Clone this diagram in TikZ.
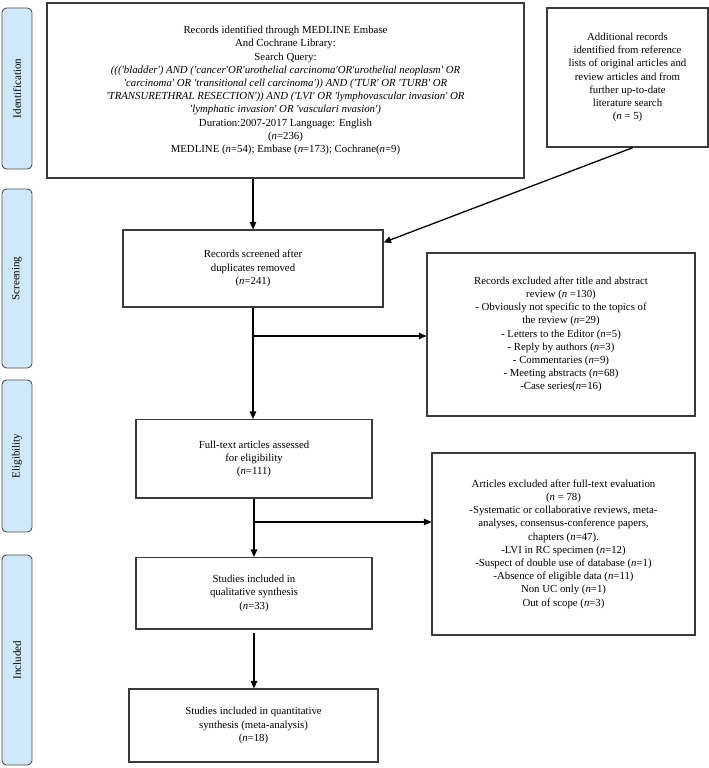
\documentclass[tikz,border=0pt]{standalone}
\usepackage{fontspec}
\setmainfont{Liberation Serif}
\usetikzlibrary{arrows.meta}
\definecolor{tabfill}{HTML}{CFE9FB}
\definecolor{tabborder}{HTML}{505050}
\definecolor{boxgray}{HTML}{3A3A3A}
\newcommand{\sq}{\textquotesingle}
\begin{document}
\begin{tikzpicture}[x=1pt,y=-1pt,
  box/.style={draw=boxgray, line width=1.1pt, align=center, inner sep=0pt,
    font=\fontsize{10.8}{13.2}\selectfont},
  tab/.style={draw=tabborder, fill=tabfill, rounded corners=4.5pt, line width=0.9pt,
    rotate=90, minimum height=30pt, inner sep=0pt, font=\fontsize{11}{13}\selectfont},
  conn/.style={line width=1.3pt, -{Triangle[length=7.5pt,width=6.5pt]}}
]
\useasboundingbox (0,0) rectangle (709,768);

% phase tabs
\node[tab, minimum width=161pt] (tid) at (17,88.5) {Identification};
\node[tab, minimum width=179pt] (tsc) at (17,278.5) {Screening};
\node[tab, minimum width=152pt] (tel) at (17,456) {Eligibility};
\node[tab, minimum width=210pt] (tin) at (17,660) {Included};

% boxes
\node[box, minimum width=477pt, minimum height=175pt] (main) at (285.5,90.5) {%
Records identified through MEDLINE Embase\\
And Cochrane Library:\\
Search Query:\\
\textit{(((\sq bladder\sq) AND (\sq cancer\sq OR\sq urothelial carcinoma\sq OR\sq urothelial neoplasm\sq{} OR}\\
\textit{\sq carcinoma\sq{} OR \sq transitional cell carcinoma\sq)) AND (\sq TUR\sq{} OR \sq TURB\sq{} OR}\\
\textit{\sq TRANSURETHRAL RESECTION\sq)) AND (\sq LVI\sq{} OR \sq lymphovascular invasion\sq{} OR}\\
\textit{\sq lymphatic invasion\sq{} OR \sq vasculari nvasion\sq)}\\
Duration:2007-2017 Language: English\\
(\textit{n}=236)\\
MEDLINE (\textit{n}=54); Embase (\textit{n}=173); Cochrane(\textit{n}=9)};

\node[box, minimum width=161pt, minimum height=139pt] (add) at (627.5,77.5) {%
Additional records\\
identified from reference\\
lists of original articles and\\
review articles and from\\
further up-to-date\\
literature search\\
(\textit{n} = 5)};

\node[box, minimum width=260pt, minimum height=77pt] (scr) at (253,268.5) {%
Records screened after\\
duplicates removed\\
(\textit{n}=241)};

\node[box, minimum width=268pt, minimum height=163pt] (exc1) at (561,334.5) {%
Records excluded after title and abstract\\
review (\textit{n} =130)\\
- Obviously not specific to the topics of\\
the review (\textit{n}=29)\\
- Letters to the Editor (\textit{n}=5)\\
- Reply by authors (\textit{n}=3)\\
- Commentaries (\textit{n}=9)\\
- Meeting abstracts (\textit{n}=68)\\
-Case series(\textit{n}=16)};

\node[box, minimum width=236pt, minimum height=78.5pt] (full) at (254,458.75) {%
Full-text articles assessed\\
for eligibility\\
(\textit{n}=111)};

\node[box, minimum width=263pt, minimum height=182pt] (exc2) at (563.5,544) {%
Articles excluded after full-text evaluation\\
(\textit{n} = 78)\\
-Systematic or collaborative reviews, meta-\\
analyses, consensus-conference papers,\\
chapters (\textit{n}=47).\\
-LVI in RC specimen (\textit{n}=12)\\
-Suspect of double use of database (\textit{n}=1)\\
-Absence of eligible data (\textit{n}=11)\\
Non UC only (\textit{n}=1)\\
Out of scope (\textit{n}=3)};

\node[box, minimum width=236pt, minimum height=71.5pt] (qual) at (254,593.25) {%
Studies included in\\
qualitative synthesis\\
(\textit{n}=33)};

\node[box, minimum width=249pt, minimum height=73pt] (quant) at (253.5,725.5) {%
Studies included in quantitative\\
synthesis (meta-analysis)\\
(\textit{n}=18)};

% connectors
\coordinate (mainout) at (scr.north |- main.south);
\draw[conn] (mainout) -- (scr.north);
\draw[conn] ([xshift=5.5pt]add.south) -- ([yshift=-13pt]scr.north east);
\draw[conn] (scr.south) -- (scr.south |- full.north);
\coordinate (ex1in) at ([yshift=-1.5pt]exc1.west);
\draw[conn] (scr.south |- ex1in) -- (ex1in);
\draw[conn] (full.south) -- (full.south |- qual.north);
\coordinate (ex2in) at ([yshift=22pt]exc2.west);
\draw[conn] (full.south |- ex2in) -- (ex2in);
\draw[conn] ([yshift=-3pt]qual.south) -- (qual.south |- quant.north);
\end{tikzpicture}
\end{document}
